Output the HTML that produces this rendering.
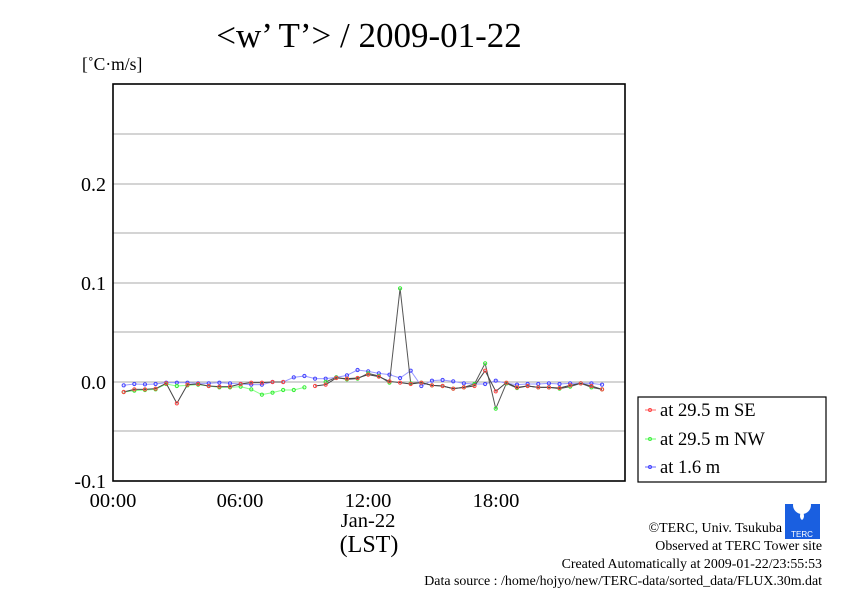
<!DOCTYPE html>
<html><head><meta charset="utf-8"><style>
body{margin:0;background:#fff;width:842px;height:595px;overflow:hidden}
svg{font-family:"Liberation Serif",serif}
</style></head><body>
<svg id="s" width="842" height="595" xmlns="http://www.w3.org/2000/svg">
<text x="369" y="47" font-size="35" text-anchor="middle">&lt;w’ T’&gt; / 2009-01-22</text>
<text x="82" y="70" font-size="17.5">[˚C·m/s]</text>
<g stroke="#aaa" stroke-width="1">
<line x1="113" x2="625" y1="134" y2="134"/><line x1="113" x2="625" y1="184" y2="184"/>
<line x1="113" x2="625" y1="233" y2="233"/><line x1="113" x2="625" y1="283" y2="283"/>
<line x1="113" x2="625" y1="332" y2="332"/><line x1="113" x2="625" y1="382" y2="382"/>
<line x1="113" x2="625" y1="431" y2="431"/>
</g>
<g font-size="20" text-anchor="end">
<text x="106" y="191">0.2</text><text x="106" y="290">0.1</text>
<text x="106" y="389">0.0</text><text x="106" y="488">-0.1</text>
</g>
<g font-size="20.5" text-anchor="middle">
<text x="113" y="507">00:00</text><text x="240" y="507">06:00</text>
<text x="368" y="507">12:00</text><text x="496" y="507">18:00</text>
<text x="368" y="527">Jan-22</text>
<text x="369" y="552" font-size="24">(LST)</text>
</g>
<g id="d"></g>
<rect x="113" y="84" width="512" height="397" fill="none" stroke="#000" stroke-width="1.6"/>
<rect x="638" y="397" width="188" height="85" fill="#fff" stroke="#000" stroke-width="1.2"/>
<g font-size="18.5">
<line x1="645" x2="656" y1="410" y2="410" stroke="#f66"/><circle cx="650" cy="410" r="1.5" fill="none" stroke="#f44"/>
<text x="660" y="416">at 29.5 m SE</text>
<line x1="645" x2="656" y1="439" y2="439" stroke="#6f6"/><circle cx="650" cy="439" r="1.5" fill="none" stroke="#4e4"/>
<text x="660" y="445">at 29.5 m NW</text>
<line x1="645" x2="656" y1="467" y2="467" stroke="#66f"/><circle cx="650" cy="467" r="1.5" fill="none" stroke="#44f"/>
<text x="660" y="473">at 1.6 m</text>
</g>
<g>
<rect x="785" y="504" width="35" height="35" fill="#1a5fe0"/>
<circle cx="802" cy="505" r="9" fill="#fff"/>
<path d="M802 510 q-4 7 0 10 q4 -3 0 -10z" fill="#fff"/>
<text x="802" y="537" font-size="8" fill="#fff" text-anchor="middle" font-family="Liberation Sans">TERC</text>
</g>
<g font-size="13.9" text-anchor="end">
<text x="782" y="532">©TERC, Univ. Tsukuba</text>
<text x="822" y="550">Observed at TERC Tower site</text>
<text x="822" y="568">Created Automatically at 2009-01-22/23:55:53</text>
<text x="822" y="585">Data source : /home/hojyo/new/TERC-data/sorted_data/FLUX.30m.dat</text>
</g>
</svg>
<script>
var B=[316,312,313,312,308,308,308,310,310,308,310,312,314,314,306,306,292,288,296,296,292,286,270,274,
280,284,294,272,318,302,300,304,310,312,312,302,310,314,312,312,310,312,310,310,310,314];
var R=[336,328,328,326,310,370,314,312,318,320,320,312,308,308,306,306,null,null,318,314,294,296,294,284,
290,304,308,312,308,316,318,326,322,318,272,334,308,322,318,322,322,324,316,310,318,328];
var G=[336,332,330,328,312,318,316,314,318,322,322,320,328,344,338,330,330,322,null,306,292,298,296,280,
288,308,25,310,308,316,318,326,322,312,250,386,310,324,318,322,322,326,320,310,322,328];
var d=document.getElementById('d'),h='';
function X(i){return 123.7+i*10.63}
function Y(v){return 280+v/3}
function ser(a,lc,mc,split,lc2){
 var segs=[],cur=[];
 for(var i=0;i<a.length;i++){if(a[i]==null){if(cur.length)segs.push(cur);cur=[];}else cur.push(i);}
 if(cur.length)segs.push(cur);
 segs.forEach(function(s){for(var k=1;k<s.length;k++){var i=s[k],j=s[k-1];
  var c=(split!=null&&i<=split)?lc2:lc;
  h+='<line x1="'+X(j)+'" y1="'+Y(a[j])+'" x2="'+X(i)+'" y2="'+Y(a[i])+'" stroke="'+c+'" stroke-width="1"/>';}});
 for(var i=0;i<a.length;i++)if(a[i]!=null)h+='<circle cx="'+X(i)+'" cy="'+Y(a[i])+'" r="1.6" fill="none" stroke="'+mc+'" stroke-width="1"/>';
}
ser(B,'#99f','#44f');
ser(G,'#555','#3e3',18,'#8f8');
ser(R,'#444','#f44');
d.innerHTML=h;
</script>
</body></html>
